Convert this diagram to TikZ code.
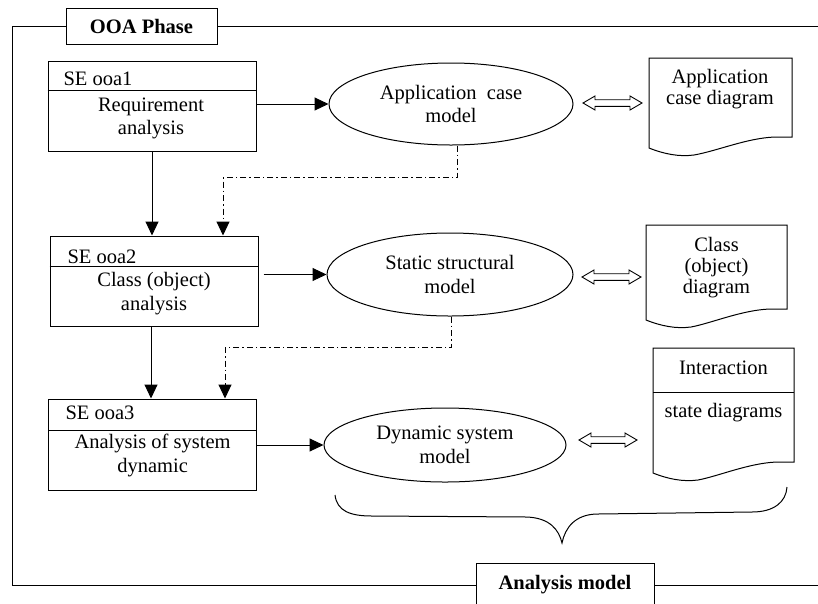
\documentclass[tikz,border=0pt]{standalone}
\usepackage{fontspec}
\setmainfont{Liberation Serif}
\usetikzlibrary{arrows.meta,shapes.geometric}
\newcommand\mydocshape[4]{%
  \draw (#1,#3) -- (#2,#3) -- (#2,#4) -- (#2-17,#4)
    .. controls (#2-45,#4+1) and (#2-75,#4+14) .. (#1+45,#4+18)
    .. controls (#1+30,#4+20) and (#1+15,#4+17) .. (#1,#4+11) -- cycle;}
\newcommand\mydblarrow[3]{%
  \draw[line width=0.9pt] (#1,#3) -- (#1+12,#3-7) -- (#1+12,#3-3.3) -- (#2-12,#3-3.3)
    -- (#2-12,#3-7) -- (#2,#3) -- (#2-12,#3+7) -- (#2-12,#3+3.3) -- (#1+12,#3+3.3)
    -- (#1+12,#3+7) -- cycle;}
\begin{document}
\begin{tikzpicture}[x=1pt,y=-1pt, line width=1pt,
  every node/.style={font=\fontsize{20.5}{23.5}\selectfont, inner sep=0pt},
  box/.style={draw, minimum width=208pt, minimum height=90pt},
  oval/.style={draw, ellipse, align=center},
  arr/.style={-{Triangle[length=14pt,width=13pt]}},
  dd/.style={dash pattern=on 6pt off 3pt on 1.5pt off 3pt},
  txt/.style={align=center},
  doctxt/.style={align=center, font=\fontsize{20.5}{21}\selectfont},
  docarea/.style={minimum width=143pt, minimum height=79pt},
  title/.style={draw, fill=white, font=\fontsize{20.5}{23.5}\selectfont\bfseries}]
\useasboundingbox (0,0) rectangle (818,603);
\clip (0,0) rectangle (818,603);

% frame
\node[title, minimum width=151pt, minimum height=36pt] (ooa) at (141.5,26) {OOA Phase};
\node[title, minimum width=178pt, minimum height=44pt] (am) at (565,585) {Analysis model};
\draw (ooa.west) -- (12,26) -- (12,585) -- (am.west);
\draw (ooa.east) -- (820,26);
\draw (am.east) -- (820,585);

% left boxes
\node[box] (b1) at (152,106) {};
\draw ([yshift=-30pt]b1.north west) -- ([yshift=-30pt]b1.north east);
\node[anchor=base west] (s1) at (63,85) {SE ooa1};
\node[txt] (r1) at (151,118.5) {Requirement\\analysis};

\node[box] (b2) at (154,281) {};
\draw ([yshift=-31pt]b2.north west) -- ([yshift=-31pt]b2.north east);
\node[anchor=base west] (s2) at (67,263) {SE ooa2};
\node[txt] (r2) at (154,293.5) {Class (object)\\analysis};

\node[box, minimum height=91pt] (b3) at (152.5,444.5) {};
\draw ([yshift=-32pt]b3.north west) -- ([yshift=-32pt]b3.north east);
\node[anchor=base west] (s3) at (65,419) {SE ooa3};
\node[txt] (r3) at (152.6,455.5) {Analysis of system\\dynamic};

% ellipses
\node[oval, minimum width=244pt, minimum height=82pt] (e1) at (451,104) {Application~ case\\model};
\node[oval, minimum width=246pt, minimum height=83pt] (e2) at (450,274.5) {Static structural\\model};
\node[oval, minimum width=242pt, minimum height=74pt] (e3) at (445,445) {Dynamic system\\model};

% documents
\mydocshape{649}{792}{58}{137}
\node[docarea] (d1) at (720.5,97.5) {};
\node[doctxt] (t1) at (720,89) {Application\\case diagram};

\mydocshape{646}{787}{225}{309}
\node[docarea, minimum width=141pt, minimum height=84pt] (d2) at (716.5,267) {};
\node[doctxt] (t2) at (716.5,268) {Class\\(object)\\diagram};

\mydocshape{653}{794}{348}{462}
\node[docarea, minimum width=141pt, minimum height=114pt] (d3) at (723.5,405) {};
\draw (653,392) -- (794,392);
\node (t3a) at (723.5,368) {Interaction};
\node (t3b) at (723.5,413) {state diagrams};

% solid arrows
\draw[arr] (b1.east |- e1.west) -- (e1.west);
\draw[arr] ([xshift=5pt]b2.east |- e2.west) -- (e2.west);
\draw[arr] (b3.east |- e3.west) -- (e3.west);
\draw[arr] (b1.south) -- (b1.south |- b2.north);
\draw[arr] ([xshift=-3pt]b2.south) -- ([xshift=-3pt]b2.south |- b3.north);

% dash-dot arrows
\draw[dd, arr] ([xshift=6pt]e1.south) -- ++(0,32) -| ([xshift=69pt]b2.north);
\draw[dd, arr] ([xshift=1pt]e2.south) -- ++(0,31) -| ([xshift=72.5pt]b3.north);

% hollow double arrows between ovals and documents
\mydblarrow{583}{642}{103}
\mydblarrow{582}{641}{277}
\mydblarrow{579}{637}{440}

% brace
\draw (335,495) .. controls (337,511) and (350,516) .. (372,516) -- (527,517)
  .. controls (550,518) and (559,530) .. (562,543)
  .. controls (565,528) and (575,514) .. (598,514) -- (752,512)
  .. controls (774,512) and (786,502) .. (787,487);
\end{tikzpicture}
\end{document}
